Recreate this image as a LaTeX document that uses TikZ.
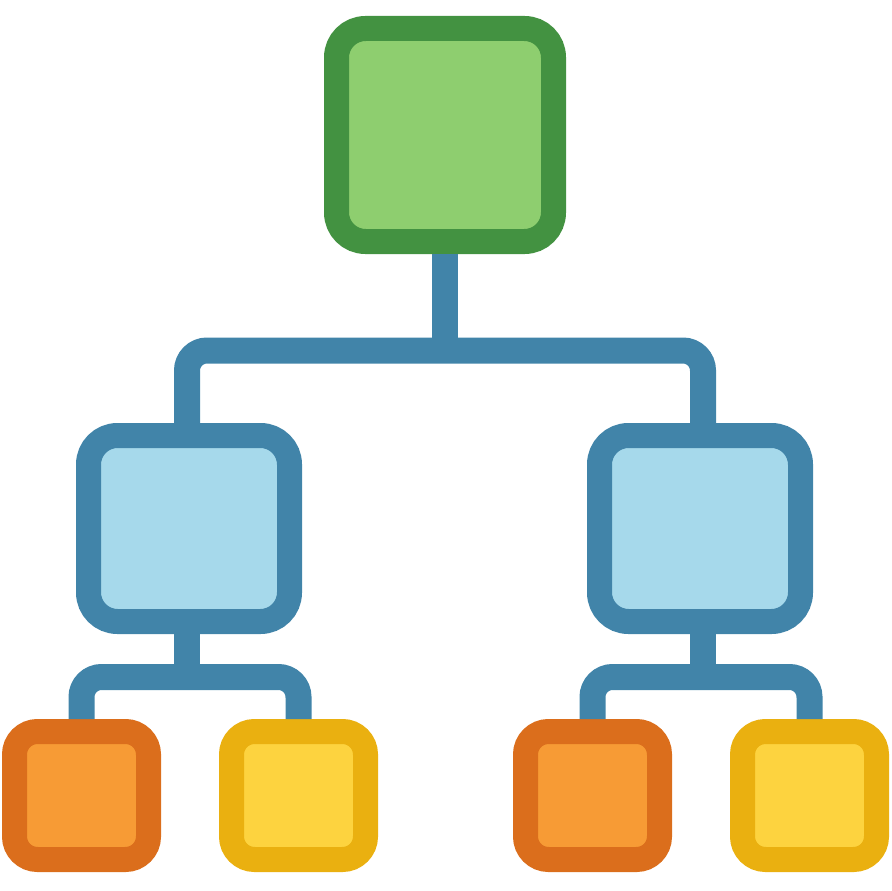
\documentclass[tikz,border=0pt]{standalone}
\usepackage{tikz}

\definecolor{greendark}{HTML}{439241}
\definecolor{greenlight}{HTML}{8ECE6F}
\definecolor{bluedark}{HTML}{4184A9}
\definecolor{bluelight}{HTML}{A6D9EB}
\definecolor{orangedark}{HTML}{DB6E1C}
\definecolor{orangelight}{HTML}{F79B35}
\definecolor{yellowdark}{HTML}{EAB010}
\definecolor{yellowlight}{HTML}{FDD33F}

\begin{document}
\begin{tikzpicture}[
                x=1pt, y=-1pt,
                box/.style={line width=25, inner sep=0, outer sep=0.5*25},
                rootbox/.style={box, draw=greendark, fill=greenlight, minimum width=217, minimum height=213, rounded corners=29},
                midbox/.style={box, draw=bluedark, fill=bluelight, minimum width=201, minimum height=186, rounded corners=29},
                orangebox/.style={box, draw=orangedark, fill=orangelight, minimum width=134, minimum height=128, rounded corners=23},
                yellowbox/.style={box, draw=yellowdark, fill=yellowlight, minimum width=134, minimum height=128, rounded corners=23},
                link/.style={draw=bluedark, line width=26, rounded corners=20}
            ]
            \useasboundingbox (0,0) rectangle (891,891);

            % Top
            \node[rootbox] (root) at (445,135) {};

            % Second Row
            \node[midbox] (midL) at (189,528.5) {};
            \node[midbox] (midR) at (700,528.5) {};

            % Third Row
            \node[orangebox] (leafLa) at (81.5,795.5) {};
            \node[yellowbox] (leafLb) at (298.5,795.5) {};
            \node[orangebox] (leafRa) at (592.5,795.5) {};
            \node[yellowbox] (leafRb) at (809.5,795.5) {};

            % Joints
            \coordinate (jTop) at (445,350.5);
            \coordinate (jL) at (187,677);
            \coordinate (jR) at (703,677);

            % Connectors
            \draw[link] (root.south) -- (jTop);
            \draw[link] ([xshift=-2]midL.north) |- (jTop) -| ([xshift=3]midR.north);
            \draw[link] ([xshift=-2]midL.south) -- (jL);
            \draw[link] (leafLa.north) |- (jL) -| (leafLb.north);
            \draw[link] ([xshift=3]midR.south) -- (jR);
            \draw[link] (leafRa.north) |- (jR) -| (leafRb.north);

        \end{tikzpicture}
\end{document}
